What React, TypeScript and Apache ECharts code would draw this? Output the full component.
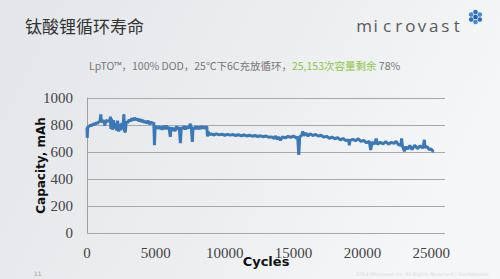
import React, { useEffect, useRef } from "react";
import * as echarts from "echarts";

const titleText = "钛酸锂循环寿命";
const subtitleGray1 = "LpTO™，100% DOD，25℃下6C充放循环，";
const subtitleGreen = "25,153次容量剩余";
const subtitleGray2 = " 78%";
const logoLetters = ["m", "i", "c", "r", "o", "v", "a", "s", "t"];
const yAxisTitle = "Capacity, mAh";
const xAxisTitle = "Cycles";
const pageNumber = "11";
const copyright = "2014 Microvast Inc All Rights Reserved | Confidential";

const yTicks = [0, 200, 400, 600, 800, 1000];
const xTicks = [0, 5000, 10000, 15000, 20000, 25000];

const cycles = [
  0, 20, 50, 150, 250, 350, 450, 550, 650, 750, 850, 950, 1000, 1040, 1150, 1250, 1300, 1350, 1450, 1550,
  1650, 1700, 1730, 1780, 1850, 1920, 2000, 2080, 2150, 2220, 2300, 2380, 2450, 2530, 2600, 2680, 2720, 2780, 2850, 2950,
  3050, 3150, 3250, 3350, 3450, 3550, 3650, 3750, 3850, 3950, 4050, 4150, 4250, 4350, 4450, 4550, 4650, 4750, 4850, 4900,
  4950, 5050, 5150, 5250, 5350, 5450, 5550, 5650, 5750, 5850, 5950, 6050, 6100, 6200, 6300, 6400, 6500, 6600, 6700, 6780,
  6850, 6950, 7050, 7150, 7250, 7350, 7450, 7500, 7580, 7650, 7700, 7800, 7900, 8000, 8100, 8200, 8300, 8400, 8500, 8600,
  8700, 8750, 8800, 8900, 9000, 9200, 9400, 9600, 9800, 10000, 10200, 10400, 10600, 10800, 11000, 11200, 11400, 11600, 11800, 12000,
  12200, 12400, 12600, 12800, 13000, 13200, 13400, 13600, 13700, 13800, 13900, 14050, 14200, 14400, 14600, 14800, 15000, 15200, 15300, 15380,
  15450, 15600, 15670, 15750, 15900, 16050, 16200, 16400, 16600, 16800, 17000, 17200, 17400, 17600, 17800, 18000, 18200, 18400, 18600, 18800,
  19000, 19050, 19100, 19300, 19500, 19700, 19900, 20100, 20300, 20500, 20600, 20700, 20900, 21000, 21100, 21300, 21500, 21700, 21900, 22100,
  22300, 22450, 22600, 22800, 22850, 22900, 23050, 23150, 23300, 23450, 23600, 23800, 24000, 24200, 24400, 24500, 24550, 24700, 24850, 25000,
  25100, 25200,
];

const capacity = [
  780, 705, 785, 790, 798, 795, 808, 805, 815, 812, 822, 828, 878, 822, 832, 825, 795, 836, 826, 832,
  828, 862, 770, 848, 765, 835, 775, 815, 758, 832, 752, 808, 760, 815, 770, 880, 760, 745, 825, 815,
  838, 828, 848, 835, 852, 838, 845, 830, 842, 825, 836, 818, 830, 812, 832, 805, 822, 810, 818, 650,
  792, 775, 790, 772, 788, 765, 792, 770, 795, 772, 785, 712, 782, 760, 778, 755, 790, 770, 785, 665,
  782, 772, 792, 768, 788, 775, 795, 808, 778, 675, 782, 770, 790, 772, 786, 770, 792, 775, 788, 772,
  790, 715, 748, 728, 735, 726, 734, 727, 732, 724, 731, 725, 729, 722, 728, 720, 726, 719, 724, 717,
  722, 715, 720, 713, 718, 710, 712, 700, 718, 695, 710, 688, 712, 705, 716, 708, 718, 704, 712, 578,
  712, 725, 752, 722, 740, 718, 735, 722, 730, 718, 724, 710, 716, 702, 710, 698, 706, 690, 700, 684,
  690, 650, 686, 694, 684, 698, 678, 686, 668, 680, 615, 672, 660, 700, 656, 672, 660, 676, 658, 672,
  664, 680, 655, 650, 700, 648, 605, 640, 622, 648, 618, 650, 625, 645, 628, 690, 635, 640, 618, 622,
  608, 605,
];

const labelFont = "'Liberation Serif', 'Times New Roman', serif";

export default function App() {
  const ref = useRef<HTMLDivElement>(null);
  useEffect(() => {
    if (!ref.current) return;
    const chart = echarts.init(ref.current, null, { renderer: "svg" });
    const data = cycles.map((c, i) => [c, capacity[i]]);
    const logoX0 = 364;
    const logoStep = 11.6;
    const dotCx = 475.5;
    const dotCy = 17;
    const dotR = 5;
    const ringDots = [0, 1, 2, 3, 4, 5].map((k) => {
      const a = (Math.PI / 3) * k + Math.PI / 6;
      return {
        type: "circle",
        shape: { cx: dotCx + dotR * Math.cos(a), cy: dotCy + dotR * Math.sin(a), r: 2.3 },
        style: { fill: k % 2 === 0 ? "#2f6fc0" : "#4a88d0" },
        z: 10,
      };
    });
    chart.setOption({
      animation: false,
      backgroundColor: new echarts.graphic.LinearGradient(0, 0, 1, 0.3, [
        { offset: 0, color: "#e3e5e8" },
        { offset: 0.6, color: "#eceef0" },
        { offset: 1, color: "#f5f6f7" },
      ]),
      grid: { left: 87, right: 55, top: 98, bottom: 46, containLabel: false },
      xAxis: {
        type: "value",
        min: 0,
        max: 26000,
        interval: 5000,
        name: xAxisTitle,
        nameLocation: "middle",
        nameGap: 22,
        nameMoveOverlap: false,
        nameTextStyle: { fontFamily: "DejaVu Sans", fontWeight: "bold", fontSize: 13, color: "#111" },
        axisLine: { show: false },
        axisTick: { show: false },
        splitLine: { show: false },
        axisLabel: {
          margin: 12,
          fontFamily: labelFont,
          fontSize: 15,
          color: "#444",
          formatter: (v: number) => (xTicks.indexOf(v) >= 0 ? String(v) : ""),
        },
      },
      yAxis: {
        type: "value",
        min: 0,
        max: 1000,
        interval: 200,
        name: yAxisTitle,
        nameLocation: "middle",
        nameGap: 40,
        nameMoveOverlap: false,
        nameTextStyle: { fontFamily: "DejaVu Sans", fontWeight: "bold", fontSize: 12, color: "#111" },
        axisLine: { show: true, lineStyle: { color: "#a0a0a0", width: 1 } },
        axisTick: { show: false },
        splitLine: { show: true, lineStyle: { color: "#a8a8a8", width: 1 } },
        axisLabel: {
          margin: 14,
          fontFamily: labelFont,
          fontSize: 15,
          color: "#444",
          formatter: (v: number) => (yTicks.indexOf(v) >= 0 ? String(v) : ""),
        },
      },
      series: [
        {
          type: "line",
          data,
          showSymbol: false,
          symbol: "none",
          lineStyle: { color: "#3a78b8", width: 3 },
          z: 5,
        },
      ],
      graphic: [
        {
          type: "text",
          left: 25,
          top: 17,
          style: { text: titleText, font: "17px 'Noto Sans CJK SC'", fill: "#333" },
        },
        ...logoLetters.map((ch, i) => ({
          type: "text",
          x: logoX0 + i * logoStep,
          y: 17,
          style: { text: ch, font: "17px 'Open Sans'", fill: "#5a5a5a", textAlign: "center" },
        })),
        ...ringDots,
        {
          type: "circle",
          shape: { cx: dotCx, cy: dotCy, r: 2.3 },
          style: { fill: "#1f5fae" },
          z: 10,
        },
        {
          type: "text",
          x: 89,
          y: 60,
          style: {
            text: "{g|" + subtitleGray1 + "}{n|" + subtitleGreen + "}{g|" + subtitleGray2 + "}",
            rich: {
              g: { fontFamily: "Noto Sans CJK SC", fontSize: 10.5, fill: "#777", color: "#777" },
              n: { fontFamily: "Noto Sans CJK SC", fontSize: 10.5, fill: "#8cc63f", color: "#8cc63f" },
            },
          },
        },
        {
          type: "text",
          x: 34,
          y: 270,
          style: { text: pageNumber, font: "6px 'DejaVu Sans'", fill: "#999" },
        },
        {
          type: "text",
          x: 356,
          y: 271,
          style: { text: copyright, font: "5px 'DejaVu Sans'", fill: "#dadcde" },
        },
      ],
    });
    return () => chart.dispose();
  }, []);
  return (
    <div
      ref={ref}
      style={{ position: "fixed", left: 0, top: 0, width: 500, height: 279 }}
    />
  );
}
